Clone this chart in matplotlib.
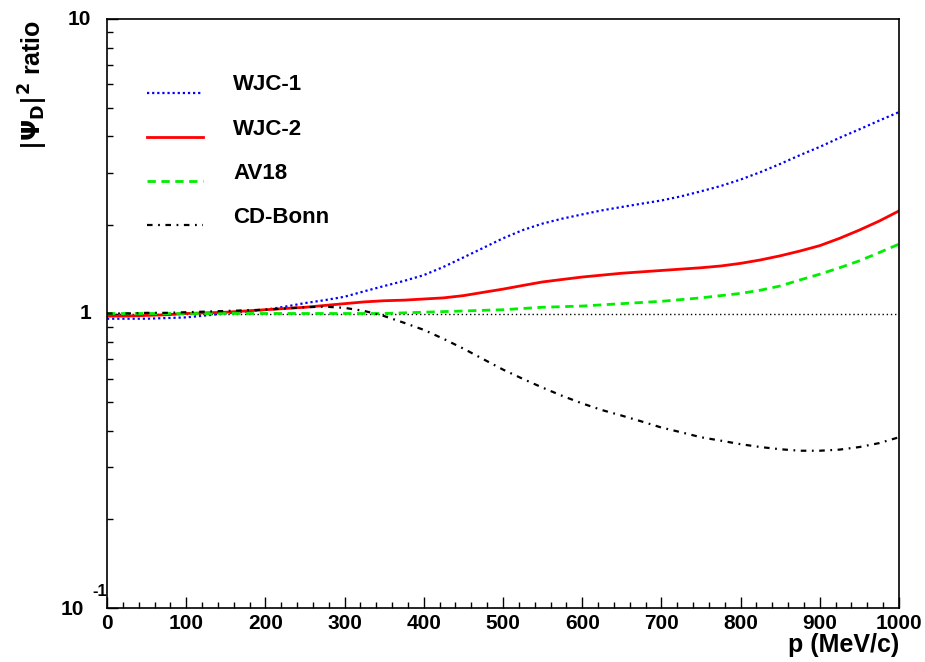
import matplotlib
matplotlib.use("Agg")
import matplotlib.pyplot as plt
from matplotlib.ticker import LogLocator, MultipleLocator, NullFormatter, FixedLocator

plt.rcParams['font.family'] = ['Liberation Sans', 'DejaVu Sans']
plt.rcParams['font.weight'] = 'bold'

# momentum grid (MeV/c)
p = [0, 25, 50, 75, 100, 125, 150, 175, 200, 225, 250, 275, 300, 325, 350,
     375, 400, 425, 450, 475, 500, 525, 550, 575, 600, 625, 650, 675, 700,
     725, 750, 775, 800, 825, 850, 875, 900, 925, 950, 975, 1000]

# ratio of squared deuteron wave functions
wjc1 = [0.96, 0.96, 0.96, 0.965, 0.97, 0.985, 1.00, 1.015, 1.03, 1.055, 1.085,
        1.11, 1.14, 1.19, 1.24, 1.29, 1.35, 1.44, 1.55, 1.67, 1.80, 1.92, 2.02,
        2.10, 2.17, 2.24, 2.30, 2.36, 2.42, 2.50, 2.60, 2.71, 2.85, 3.02, 3.22,
        3.45, 3.68, 3.95, 4.22, 4.52, 4.83]
wjc2 = [0.98, 0.98, 0.985, 0.99, 1.00, 1.005, 1.01, 1.02, 1.03, 1.04, 1.05,
        1.065, 1.08, 1.095, 1.105, 1.11, 1.12, 1.13, 1.15, 1.18, 1.21, 1.245,
        1.28, 1.305, 1.33, 1.35, 1.37, 1.385, 1.40, 1.415, 1.43, 1.45, 1.48,
        1.52, 1.57, 1.63, 1.70, 1.80, 1.92, 2.06, 2.23]
av18 = [1.00, 1.00, 1.00, 1.00, 1.00, 1.00, 1.00, 1.00, 1.00, 1.00, 1.00,
        1.00, 1.00, 1.00, 1.00, 1.005, 1.01, 1.015, 1.02, 1.025, 1.03, 1.04,
        1.05, 1.055, 1.06, 1.07, 1.08, 1.09, 1.10, 1.115, 1.13, 1.15, 1.17,
        1.20, 1.24, 1.30, 1.36, 1.43, 1.51, 1.61, 1.72]
cdbonn = [1.00, 1.00, 1.005, 1.005, 1.01, 1.015, 1.02, 1.025, 1.03, 1.04, 1.05,
          1.055, 1.045, 1.02, 0.98, 0.93, 0.88, 0.82, 0.76, 0.70, 0.645, 0.60,
          0.56, 0.525, 0.495, 0.47, 0.45, 0.43, 0.41, 0.395, 0.38, 0.37, 0.36,
          0.352, 0.346, 0.342, 0.342, 0.345, 0.352, 0.363, 0.38]

labels = ['WJC-1', 'WJC-2', 'AV18', 'CD-Bonn']
x_ticks = [0, 100, 200, 300, 400, 500, 600, 700, 800, 900, 1000]

styles = [
    dict(color='#0000ff', lw=1.6, ls=(0, (1, 1.3))),
    dict(color='#ff0000', lw=2.0, ls='-'),
    dict(color='#00ee00', lw=2.0, ls=(0, (3, 2))),
    dict(color='black', lw=1.6, ls=(0, (2.5, 2.5, 0.8, 2.5))),
]

W, H = 925, 662
fig = plt.figure(figsize=(W / 100, H / 100), dpi=100)
L, R, B, T = 107, 899, 608, 19
ax = fig.add_axes([L / W, 1 - B / H, (R - L) / W, (B - T) / H])

ax.set_yscale('log')
ax.set_xlim(0, 1000)
ax.set_ylim(0.1, 10)

ax.axhline(1.0, color='black', lw=1.0, ls=(0, (1, 2)), zorder=1)

for series, st in zip([wjc1, wjc2, av18, cdbonn], styles):
    ax.plot(p, series, **st)

for s in ax.spines.values():
    s.set_linewidth(1.2)

ax.xaxis.set_major_locator(FixedLocator(x_ticks))
ax.xaxis.set_minor_locator(MultipleLocator(20))
ax.set_xticklabels([str(v) for v in x_ticks])
ax.tick_params(axis='x', which='major', direction='in', length=8, width=1,
               labelsize=15, pad=4.5, top=False)
ax.tick_params(axis='x', which='minor', direction='in', length=4, width=1, top=False)

ax.yaxis.set_major_locator(LogLocator(base=10, numticks=10))
ax.yaxis.set_minor_locator(LogLocator(base=10, subs=range(2, 10), numticks=20))
ax.yaxis.set_major_formatter(NullFormatter())
ax.yaxis.set_minor_formatter(NullFormatter())
ax.tick_params(axis='y', which='major', direction='in', length=8, width=1, right=False)
ax.tick_params(axis='y', which='minor', direction='in', length=4, width=1, right=False)

# ROOT-style y tick labels
tfs = 15
fig.text(91 / W, 1 - 19.5 / H, '10', ha='right', va='center', fontsize=tfs, fontweight='bold')
fig.text(91 / W, 1 - 314 / H, '1', ha='right', va='center', fontsize=tfs, fontweight='bold')
fig.text(84 / W, 1 - 609.5 / H, '10', ha='right', va='center', fontsize=tfs, fontweight='bold')
fig.text(107 / W, 1 - 592 / H, '-1', ha='right', va='center', fontsize=12, fontweight='bold')

# axis titles
fig.text(899 / W, 1 - 645 / H, 'p (MeV/c)', ha='right', va='center', fontsize=18, fontweight='bold')
fig.text(33 / W, 1 - 20 / H, r'$|\Psi_{\mathrm{D}}|^{2}$ ratio', ha='center', va='top',
         rotation=90, fontsize=18, fontweight='bold')

# legend
rows = [92.5, 137, 181, 225]
for st, lab, yy in zip(styles, labels, rows):
    yf = 1 - yy / H
    fig.add_artist(plt.Line2D([147 / W, 203 / W], [yf, yf], color=st['color'],
                              lw=st['lw'], ls=st['ls'], transform=fig.transFigure))
    fig.text(233 / W, yf + 0.012, lab, ha='left', va='center', fontsize=16, fontweight='bold')

fig.savefig('out.png', dpi=100)
